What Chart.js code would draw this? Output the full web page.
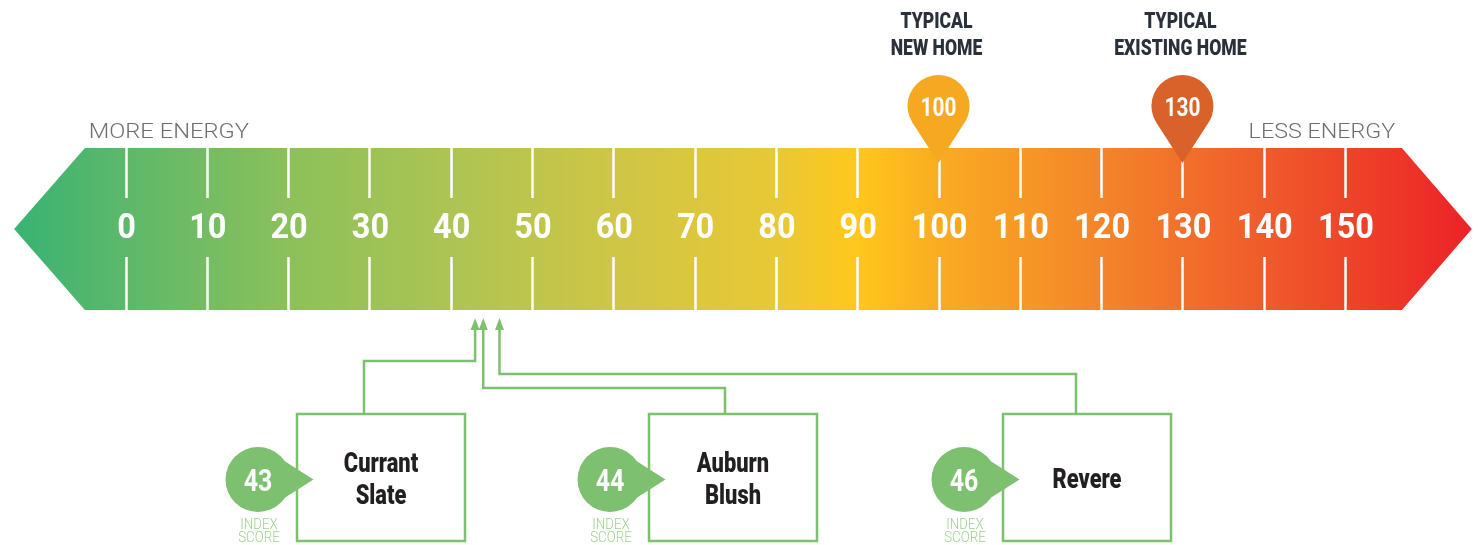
<!DOCTYPE html>
<html>
<head>
<meta charset="utf-8">
<script src="https://cdn.jsdelivr.net/npm/chart.js@4.4.1/dist/chart.umd.min.js"></script>
<style>
  html, body { margin: 0; padding: 0; background: #fff; }
  #chart { display: block; }
</style>
</head>
<body>
<canvas id="chart" width="1479" height="545"></canvas>
<script>
// scale values
const ticks = [0, 10, 20, 30, 40, 50, 60, 70, 80, 90, 100, 110, 120, 130, 140, 150];
const tickLabels = ticks.map(String);
const endLabels = ["MORE ENERGY", "LESS ENERGY"];

// reference homes
const markerValues = [100, 130];
const markerTitles = [["TYPICAL", "NEW HOME"], ["TYPICAL", "EXISTING HOME"]];

// products
const productNames = [["Currant", "Slate"], ["Auburn", "Blush"], ["Revere"]];
const productScores = [43, 44, 46];
const scoreCaption = ["INDEX", "SCORE"];

// layout + style (pixels)
const W = 1479, H = 545;
const band = { top: 148, bottom: 310, bodyFrom: -5, bodyTo: 157, tipFrom: -13.7, tipTo: 165.6 };
const markerColors = ["#F6A821", "#D9622B"];
const green = "#7DC06F";
const boxes = [
  { cx: 381, attach: 364, elbowY: 361 },
  { cx: 733, attach: 725, elbowY: 388 },
  { cx: 1087, attach: 1076, elbowY: 374 },
];
const boxW = 168, boxTop = 414, boxBottom = 541, arrowTipY = 318;

function text(ctx, s, x, y, font, color, sx, align) {
  ctx.save();
  ctx.translate(x, y);
  ctx.scale(sx || 1, 1);
  ctx.font = font;
  ctx.fillStyle = color;
  ctx.textAlign = align || "center";
  ctx.textBaseline = "alphabetic";
  ctx.fillText(s, 0, 0);
  ctx.restore();
}

const ratingPlugin = {
  id: "rating",
  beforeDatasetsDraw(chart) {
    const ctx = chart.ctx;
    const x = chart.scales.x;
    const px = (v) => x.getPixelForValue(v);
    const mid = (band.top + band.bottom) / 2;

    // gradient band
    const g = ctx.createLinearGradient(px(band.tipFrom), 0, px(band.tipTo), 0);
    const stops = [
      [band.tipFrom, "#38B373"], [0, "#5DB86B"], [20, "#8CC05B"], [40, "#ADC453"],
      [60, "#CEC646"], [80, "#E8C836"], [90, "#FFC81C"], [100, "#F9AC22"],
      [120, "#F3852A"], [140, "#EF5B2B"], [band.tipTo, "#EC2227"],
    ];
    const span = band.tipTo - band.tipFrom;
    for (const [v, c] of stops) g.addColorStop((v - band.tipFrom) / span, c);
    ctx.save();
    ctx.beginPath();
    ctx.moveTo(px(band.tipFrom), mid);
    ctx.lineTo(px(band.bodyFrom), band.top);
    ctx.lineTo(px(band.bodyTo), band.top);
    ctx.lineTo(px(band.tipTo), mid);
    ctx.lineTo(px(band.bodyTo), band.bottom);
    ctx.lineTo(px(band.bodyFrom), band.bottom);
    ctx.closePath();
    ctx.fillStyle = g;
    ctx.fill();

    // tick lines + labels
    ctx.strokeStyle = "#fff";
    ctx.lineWidth = 2.5;
    ticks.forEach((t, i) => {
      const tx = Math.round(px(t)) + 0.5;
      ctx.beginPath();
      ctx.moveTo(tx, band.top);
      ctx.lineTo(tx, 198);
      ctx.moveTo(tx, 257);
      ctx.lineTo(tx, band.bottom);
      ctx.stroke();
      text(ctx, tickLabels[i], px(t) + 1, 238, "bold 35px Roboto", "#fff", 0.93);
    });

    // end labels
    text(ctx, endLabels[0], px(band.bodyFrom) + 84, 138, "300 21px Roboto", "#6D6E71", 1.13);
    text(ctx, endLabels[1], px(band.bodyTo) - 80, 138, "300 21px Roboto", "#6D6E71", 1.11);

    // markers
    markerValues.forEach((v, i) => {
      const cx = px(v), cy = 106, r = 31, tipY = 163;
      const a = Math.acos(r / (tipY - cy));
      ctx.beginPath();
      ctx.moveTo(cx, tipY);
      ctx.arc(cx, cy, r, Math.PI / 2 + a, Math.PI * 2.5 - a);
      ctx.closePath();
      ctx.fillStyle = markerColors[i];
      ctx.fill();
      text(ctx, String(v), cx, 116, "bold 26px Roboto", "#fff", 0.8);
      text(ctx, markerTitles[i][0], cx - 2, 28, "900 22px Roboto", "#2B313B", 0.8);
      text(ctx, markerTitles[i][1], cx - 2, 55, "900 22px Roboto", "#2B313B", 0.8);
    });

    // connectors and boxes
    ctx.strokeStyle = green;
    ctx.lineWidth = 2.5;
    productScores.forEach((s, i) => {
      const b = boxes[i];
      const ax = px(s);
      ctx.beginPath();
      ctx.moveTo(ax, arrowTipY + 8);
      ctx.lineTo(ax, b.elbowY);
      ctx.lineTo(b.attach, b.elbowY);
      ctx.lineTo(b.attach, boxTop);
      ctx.stroke();
      ctx.beginPath();
      ctx.moveTo(ax, arrowTipY);
      ctx.lineTo(ax - 4.5, arrowTipY + 12);
      ctx.lineTo(ax + 4.5, arrowTipY + 12);
      ctx.closePath();
      ctx.fillStyle = green;
      ctx.fill();

      ctx.strokeRect(b.cx - boxW / 2, boxTop, boxW, boxBottom - boxTop);
      const names = productNames[i];
      const f = "900 28px Roboto";
      if (names.length === 2) {
        text(ctx, names[0], b.cx, 472, f, "#231F20", 0.78);
        text(ctx, names[1], b.cx, 504, f, "#231F20", 0.78);
      } else {
        text(ctx, names[0], b.cx, 488, f, "#231F20", 0.78);
      }

      // score bubble
      const bx = b.cx - boxW / 2 - 39, by = 479.5, br = 32.5;
      ctx.beginPath();
      ctx.arc(bx, by, br, 0, Math.PI * 2);
      ctx.moveTo(bx + br * Math.cos(-0.6), by + br * Math.sin(-0.6));
      ctx.lineTo(bx + 55.5, by);
      ctx.lineTo(bx + br * Math.cos(0.6), by + br * Math.sin(0.6));
      ctx.closePath();
      ctx.fill();
      text(ctx, String(s), bx, 491, "bold 32px Roboto", "#fff", 0.78);
      text(ctx, scoreCaption[0], bx + 1, 529, "300 14px Roboto", "#9FCF91", 0.95);
      text(ctx, scoreCaption[1], bx + 1, 542, "300 14px Roboto", "#9FCF91", 0.95);
    });
    ctx.restore();
  },
};

new Chart(document.getElementById("chart"), {
  type: "scatter",
  data: { datasets: [{ data: [], pointRadius: 0 }] },
  options: {
    responsive: false,
    animation: false,
    devicePixelRatio: 1,
    layout: { padding: 0 },
    plugins: { legend: { display: false }, tooltip: { enabled: false } },
    scales: {
      x: { type: "linear", min: -15.437, max: 166.48, display: false },
      y: { type: "linear", min: 0, max: H, reverse: true, display: false },
    },
  },
  plugins: [ratingPlugin],
});
</script>
</body>
</html>
